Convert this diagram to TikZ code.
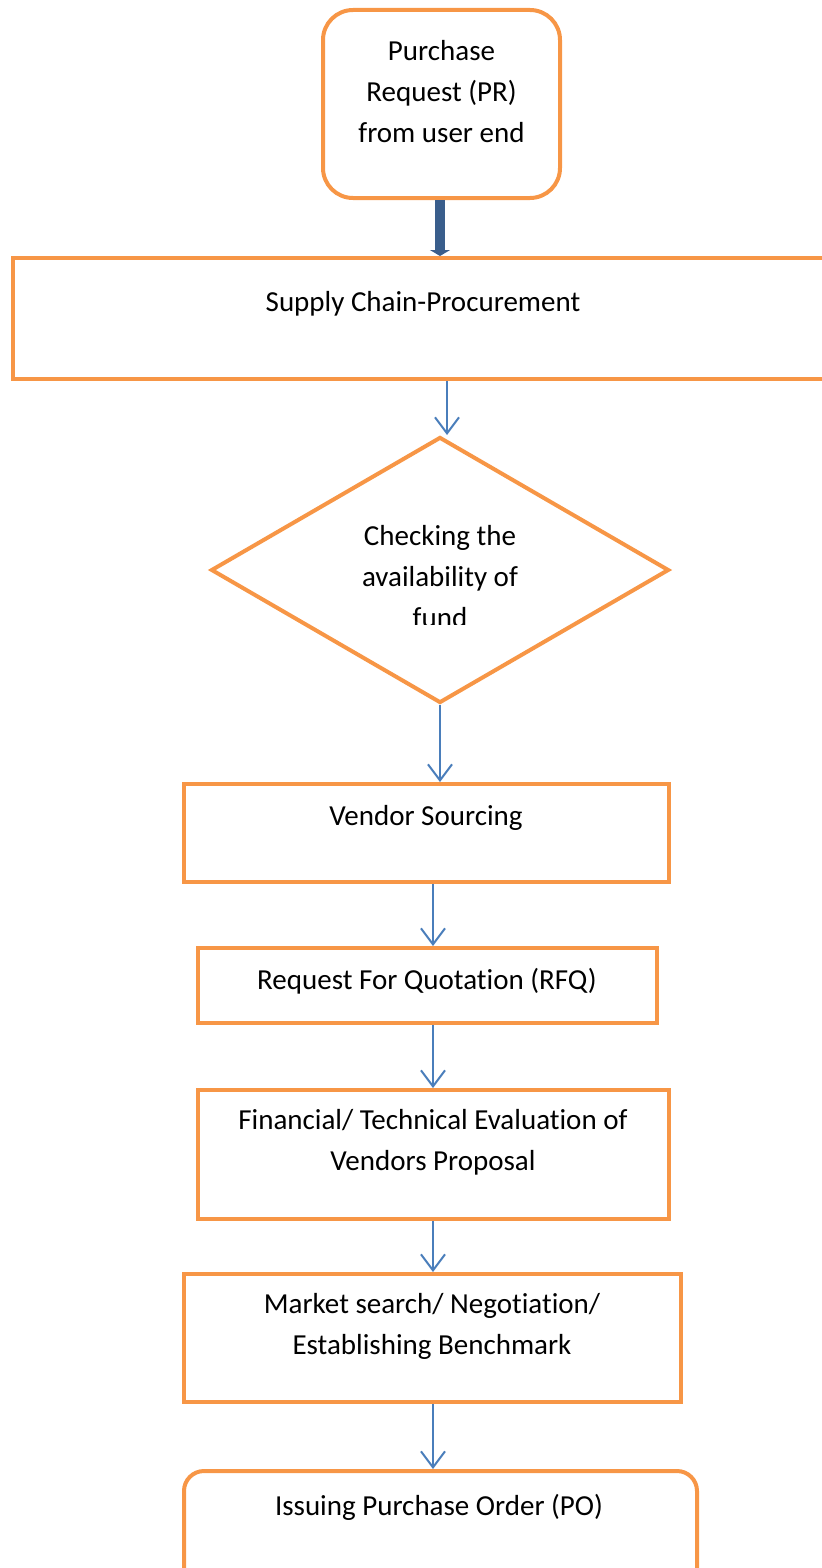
\documentclass[tikz,border=0pt]{standalone}
\usepackage{fontspec}
\setmainfont{Carlito}[Ligatures=NoCommon]
\usetikzlibrary{arrows.meta,shapes.geometric}
\definecolor{boxorange}{HTML}{F79646}
\definecolor{linkblue}{HTML}{4A7EBB}
\definecolor{darkblue}{HTML}{3A5E8C}

\begin{document}
\begin{tikzpicture}
    [x=0.5pt,y=-0.5pt,
     font=\fontsize{14.5}{20.5}\selectfont,
     box/.style={draw=boxorange,line width=2pt,inner sep=0pt},
     boxtext/.style={align=center,inner sep=0pt},
     flow/.style={draw=linkblue,line width=1pt,-{Straight Barb[length=8pt,width=12pt]}},
     fatflow/.style={draw=darkblue,line width=5pt,-{Triangle[length=3pt,width=10pt]}}]
    \clip (0,0) rectangle (822,1568);
    % boxes
    \node[box,rounded corners=15pt,minimum width=118.5pt,minimum height=94pt] (pr) at (441.5,104) {};
    \node[boxtext] (prtext) at (441.5,92) {Purchase\\Request (PR)\\from user end};
    \node[box,minimum width=413.5pt,minimum height=60.5pt] (supply) at (426.5,318.5) {};
    \node[boxtext] (supplytext) at (423,304) {Supply Chain-Procurement};
    \node[box,diamond,minimum width=229pt,minimum height=133pt] (check) at (440,570) {};
    \begin{scope}
      \clip (0,0) rectangle (822,624);
      \node[boxtext] (checktext) at (440,577) {Checking the\\availability of\\fund};
    \end{scope}
    \node[box,minimum width=242.5pt,minimum height=49pt] (vendor) at (426.5,833) {};
    \node[boxtext] (vendortext) at (426,818) {Vendor Sourcing};
    \node[box,minimum width=229.5pt,minimum height=37.5pt] (rfq) at (427.5,985.5) {};
    \node[boxtext] (rfqtext) at (427,981) {Request For Quotation (RFQ)};
    \node[box,minimum width=235.5pt,minimum height=64.5pt] (eval) at (433.5,1154.5) {};
    \node[boxtext] (evaltext) at (433,1142) {Financial/ Technical Evaluation of\\Vendors Proposal};
    \node[box,minimum width=248.5pt,minimum height=64pt] (market) at (432.5,1338) {};
    \node[boxtext] (markettext) at (432,1326) {Market search/ Negotiation/\\Establishing Benchmark};
    \node[box,rounded corners=10pt,minimum width=256.5pt,minimum height=65pt] (po) at (440.5,1536) {};
    \node[boxtext] (potext) at (439,1507) {Issuing Purchase Order (PO)};
    % connectors
    \coordinate (topx) at (447,0);
    \coordinate (midx) at (433,0);
    \draw[fatflow] (pr.south -| 440,0) -- (supply.north -| 440,0);
    \draw[flow] (supply.south -| topx) -- (check.north -| topx);
    \draw[flow] (check.south) -- (vendor.north -| check.south);
    \draw[flow] (vendor.south -| midx) -- (rfq.north -| midx);
    \draw[flow] (rfq.south -| midx) -- (eval.north -| midx);
    \draw[flow] (eval.south -| midx) -- (market.north -| midx);
    \draw[flow] (market.south -| midx) -- (po.north -| midx);
\end{tikzpicture}
\end{document}
